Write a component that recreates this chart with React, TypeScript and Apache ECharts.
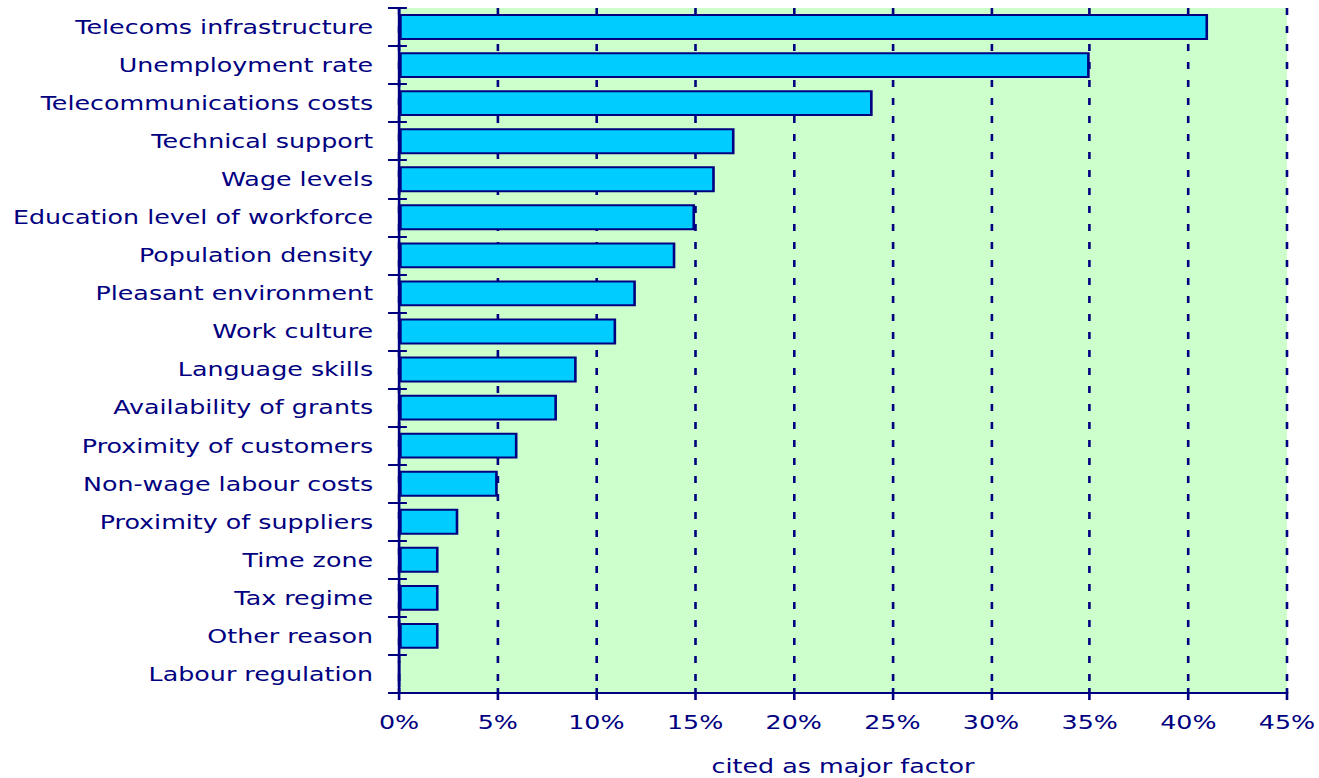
import React, { useEffect, useRef } from "react";
import * as echarts from "echarts";

const categories = [
  "Telecoms infrastructure",
  "Unemployment rate",
  "Telecommunications costs",
  "Technical support",
  "Wage levels",
  "Education level of workforce",
  "Population density",
  "Pleasant environment",
  "Work culture",
  "Language skills",
  "Availability of grants",
  "Proximity of customers",
  "Non-wage labour costs",
  "Proximity of suppliers",
  "Time zone",
  "Tax regime",
  "Other reason",
  "Labour regulation",
];
const values = [41, 35, 24, 17, 16, 15, 14, 12, 11, 9, 8, 6, 5, 3, 2, 2, 2, 0];
const xMin = 0;
const xMax = 45;
const xInterval = 5;
const axisName = "cited as major factor";

const NAVY = "#000080";
const FONT = "DejaVu Sans";
const FS = 19.5;
const SCALE = 1.3;
const W = 1015;
const H = 778;

export default function App() {
  const ref = useRef<HTMLDivElement>(null);
  useEffect(() => {
    if (!ref.current) return;
    const chart = echarts.init(ref.current, undefined, { renderer: "svg" });
    const baseX = {
      type: "value" as const,
      min: xMin,
      max: xMax,
      interval: xInterval,
    };
    chart.setOption({
      animation: false,
      grid: {
        left: 307,
        right: 25,
        top: 8,
        bottom: 85,
        show: true,
        backgroundColor: "#CCFFCC",
        borderWidth: 0,
        containLabel: false,
        outerBoundsMode: "none",
      },
      xAxis: [
        {
          ...baseX,
          position: "bottom",
          axisLine: { show: true, lineStyle: { color: NAVY, width: 2 } },
          axisTick: { show: true, inside: false, length: 7, lineStyle: { color: NAVY, width: 2 } },
          axisLabel: {
            color: NAVY,
            fontFamily: FONT,
            fontSize: FS,
            margin: 19,
            formatter: (v: number) => `${v}%`,
          },
          splitLine: {
            show: true,
            lineStyle: { color: NAVY, width: 2, type: [7, 11] },
          },
          name: axisName,
          nameLocation: "middle",
          nameGap: 63,
          nameTextStyle: { color: NAVY, fontFamily: FONT, fontSize: FS },
        },
        {
          ...baseX,
          position: "bottom",
          axisLine: { show: false },
          axisTick: { show: true, inside: true, length: 5, lineStyle: { color: NAVY, width: 2 } },
          axisLabel: { show: false },
          splitLine: { show: false },
        },
      ],
      yAxis: [
        {
          type: "category",
          data: categories,
          inverse: true,
          axisLine: { show: true, lineStyle: { color: NAVY, width: 2 } },
          axisTick: { show: true, inside: false, length: 8.5, lineStyle: { color: NAVY, width: 2 } },
          axisLabel: {
            color: NAVY,
            fontFamily: FONT,
            fontSize: FS,
            margin: 20,
          },
          splitLine: { show: false },
        },
        {
          type: "category",
          data: categories,
          inverse: true,
          position: "left",
          axisLine: { show: false },
          axisTick: { show: true, inside: true, length: 6, lineStyle: { color: NAVY, width: 2 } },
          axisLabel: { show: false },
          splitLine: { show: false },
        },
      ],
      series: [
        {
          type: "bar",
          data: values,
          xAxisIndex: 0,
          yAxisIndex: 0,
          barWidth: "68%",
          itemStyle: { color: "#00CCFF", borderColor: NAVY, borderWidth: 2 },
        },
      ],
    });
    return () => chart.dispose();
  }, []);
  return (
    <div
      ref={ref}
      style={{
        position: "fixed",
        left: 0,
        top: 0,
        width: W,
        height: H,
        transform: `scaleX(${SCALE})`,
        transformOrigin: "0 0",
        background: "#ffffff",
      }}
    />
  );
}
